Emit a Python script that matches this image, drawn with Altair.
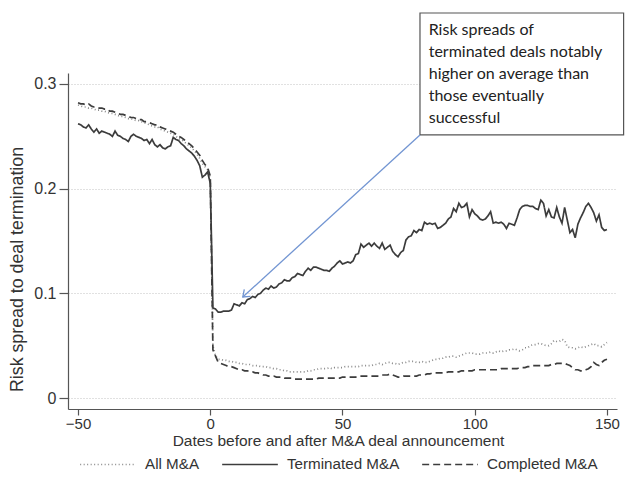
import altair as alt
import pandas as pd

days = list(range(-50, 151))
series_names = ["All M&A", "Terminated M&A", "Completed M&A"]

all_pre = [0.280, 0.279, 0.278, 0.278, 0.277, 0.277, 0.276, 0.275, 0.275, 0.274,
           0.274, 0.273, 0.272, 0.272, 0.271, 0.270, 0.269, 0.269, 0.268, 0.267,
           0.267, 0.266, 0.265, 0.265, 0.264, 0.263, 0.262, 0.261, 0.260, 0.259,
           0.259, 0.257, 0.256, 0.255, 0.254, 0.253, 0.252, 0.250, 0.248, 0.247,
           0.245, 0.243, 0.241, 0.239, 0.236, 0.233, 0.229, 0.224, 0.221, 0.218,
           0.210]
all_post = [0.050, 0.040, 0.037, 0.037, 0.036, 0.036, 0.035, 0.035, 0.034, 0.034,
            0.033, 0.033, 0.032, 0.032, 0.032, 0.031, 0.031, 0.031, 0.030, 0.030,
            0.030, 0.029, 0.029, 0.028, 0.028, 0.027, 0.027, 0.026, 0.026, 0.025,
            0.025, 0.025, 0.025, 0.025, 0.025, 0.025, 0.026, 0.026, 0.027, 0.027,
            0.028, 0.028, 0.028, 0.028, 0.029, 0.028, 0.029, 0.029, 0.029, 0.029,
            0.030, 0.030, 0.030, 0.030, 0.030, 0.030, 0.031, 0.031, 0.031, 0.031,
            0.031, 0.032, 0.032, 0.033, 0.032, 0.033, 0.034, 0.034, 0.033, 0.033,
            0.032, 0.033, 0.034, 0.034, 0.035, 0.035, 0.035, 0.034, 0.034, 0.035,
            0.034, 0.034, 0.035, 0.036, 0.037, 0.037, 0.038, 0.038, 0.039, 0.039,
            0.040, 0.040, 0.039, 0.040, 0.041, 0.042, 0.043, 0.043, 0.043, 0.042,
            0.042, 0.042, 0.043, 0.043, 0.043, 0.044, 0.043, 0.044, 0.045, 0.044,
            0.045, 0.045, 0.046, 0.046, 0.047, 0.046, 0.045, 0.046, 0.048, 0.048,
            0.050, 0.051, 0.051, 0.052, 0.052, 0.051, 0.050, 0.050, 0.052, 0.055,
            0.054, 0.054, 0.056, 0.055, 0.049, 0.048, 0.048, 0.047, 0.048, 0.049,
            0.048, 0.049, 0.050, 0.051, 0.052, 0.050, 0.050, 0.049, 0.051, 0.053]

term_pre = [0.262, 0.261, 0.259, 0.258, 0.261, 0.257, 0.254, 0.257, 0.253, 0.255,
            0.254, 0.253, 0.252, 0.250, 0.255, 0.251, 0.250, 0.248, 0.247, 0.245,
            0.250, 0.252, 0.250, 0.249, 0.248, 0.246, 0.247, 0.243, 0.247, 0.242,
            0.240, 0.242, 0.239, 0.238, 0.240, 0.241, 0.249, 0.247, 0.246, 0.243,
            0.241, 0.238, 0.236, 0.234, 0.231, 0.227, 0.222, 0.211, 0.213, 0.216,
            0.205]
term_post = [0.086, 0.085, 0.082, 0.082, 0.083, 0.083, 0.083, 0.084, 0.090, 0.089,
             0.088, 0.091, 0.090, 0.094, 0.095, 0.097, 0.096, 0.099, 0.100, 0.103,
             0.105, 0.104, 0.107, 0.105, 0.106, 0.109, 0.110, 0.113, 0.112, 0.112,
             0.115, 0.116, 0.119, 0.118, 0.117, 0.121, 0.124, 0.122, 0.125, 0.125,
             0.124, 0.123, 0.122, 0.122, 0.121, 0.124, 0.126, 0.129, 0.131, 0.128,
             0.129, 0.130, 0.129, 0.131, 0.137, 0.138, 0.147, 0.144, 0.146, 0.148,
             0.145, 0.148, 0.145, 0.143, 0.148, 0.142, 0.144, 0.146, 0.140, 0.137,
             0.135, 0.139, 0.141, 0.151, 0.154, 0.155, 0.160, 0.158, 0.161, 0.160,
             0.168, 0.166, 0.167, 0.166, 0.167, 0.162, 0.163, 0.165, 0.167, 0.171,
             0.173, 0.181, 0.178, 0.186, 0.182, 0.183, 0.186, 0.173, 0.180, 0.176,
             0.174, 0.171, 0.170, 0.171, 0.174, 0.178, 0.167, 0.168, 0.167, 0.168,
             0.166, 0.162, 0.167, 0.166, 0.165, 0.172, 0.180, 0.183, 0.184, 0.184,
             0.183, 0.183, 0.181, 0.180, 0.189, 0.186, 0.174, 0.180, 0.173, 0.172,
             0.182, 0.173, 0.167, 0.182, 0.170, 0.158, 0.161, 0.153, 0.166, 0.172,
             0.177, 0.183, 0.186, 0.182, 0.177, 0.169, 0.175, 0.163, 0.160, 0.161]

comp_pre = [0.282, 0.281, 0.281, 0.280, 0.281, 0.279, 0.278, 0.278, 0.277, 0.277,
            0.276, 0.276, 0.274, 0.274, 0.273, 0.272, 0.271, 0.271, 0.270, 0.269,
            0.268, 0.268, 0.267, 0.266, 0.266, 0.264, 0.264, 0.263, 0.262, 0.261,
            0.261, 0.259, 0.258, 0.257, 0.256, 0.255, 0.254, 0.252, 0.250, 0.249,
            0.247, 0.245, 0.243, 0.241, 0.238, 0.235, 0.232, 0.227, 0.223, 0.220,
            0.212]
comp_post = [0.046, 0.040, 0.034, 0.033, 0.032, 0.031, 0.030, 0.030, 0.029, 0.028,
             0.027, 0.027, 0.026, 0.026, 0.025, 0.025, 0.024, 0.024, 0.023, 0.022,
             0.022, 0.021, 0.021, 0.021, 0.020, 0.020, 0.020, 0.019, 0.019, 0.019,
             0.019, 0.018, 0.018, 0.018, 0.018, 0.018, 0.018, 0.018, 0.018, 0.018,
             0.019, 0.019, 0.019, 0.019, 0.019, 0.019, 0.019, 0.019, 0.019, 0.020,
             0.020, 0.020, 0.020, 0.020, 0.020, 0.021, 0.021, 0.021, 0.021, 0.021,
             0.021, 0.021, 0.021, 0.021, 0.022, 0.022, 0.022, 0.023, 0.022, 0.021,
             0.020, 0.020, 0.021, 0.021, 0.021, 0.021, 0.021, 0.021, 0.022, 0.022,
             0.022, 0.023, 0.023, 0.024, 0.024, 0.024, 0.024, 0.024, 0.024, 0.025,
             0.025, 0.025, 0.025, 0.025, 0.026, 0.026, 0.026, 0.026, 0.026, 0.027,
             0.027, 0.027, 0.027, 0.027, 0.027, 0.027, 0.027, 0.027, 0.027, 0.028,
             0.028, 0.028, 0.028, 0.028, 0.028, 0.028, 0.029, 0.029, 0.029, 0.030,
             0.030, 0.031, 0.031, 0.031, 0.031, 0.031, 0.031, 0.031, 0.032, 0.032,
             0.033, 0.033, 0.033, 0.033, 0.032, 0.031, 0.029, 0.027, 0.027, 0.026,
             0.026, 0.027, 0.028, 0.030, 0.034, 0.032, 0.031, 0.034, 0.036, 0.037]

x_ticks = [-50, 0, 50, 100, 150]
y_ticks = [0, 0.1, 0.2, 0.3]

# annotation anchors (data units)
box_x = [79.3]
box_x2 = [156.3]
box_y = [0.2513]
box_y2 = [0.3678]
arrow_tip_x = [12.3]
arrow_tip_y = [0.0965]
note_x = [82.6]
note_y = [0.3590]
note_lines = ["Risk spreads of", "terminated deals notably", "higher on average than",
              "those eventually", "successful"]

rows = []
for name, vals in zip(series_names, [all_pre + all_post, term_pre + term_post, comp_pre + comp_post]):
    for d, v in zip(days, vals):
        rows.append({"day": d, "value": v, "series": name})
df = pd.DataFrame(rows)

xscale = alt.Scale(domain=[-53.8, 153.8], nice=False, zero=False)
yscale = alt.Scale(domain=[-0.0105, 0.3105], nice=False, zero=False)

leg = alt.Legend(orient="none", legendX=11, legendY=362, direction="horizontal",
                 title=None, symbolType="stroke", symbolSize=3100, symbolStrokeWidth=1.5,
                 labelFontSize=15.2, labelFont="Liberation Sans", labelColor="#333",
                 columnPadding=19, labelOffset=8)

lines = alt.Chart(df).mark_line(strokeWidth=1.7).encode(
    x=alt.X("day:Q", scale=xscale,
            axis=alt.Axis(values=x_ticks, title="Dates before and after M&A deal announcement",
                          grid=False, tickSize=6, labelPadding=1, titlePadding=2,
                          titleFontSize=15.5, titleX=270)),
    y=alt.Y("value:Q", scale=yscale,
            axis=alt.Axis(values=y_ticks, title="Risk spread to deal termination",
                          grid=True, gridDash=[1, 2], gridColor="#c4c4c4", gridWidth=1.2,
                          tickSize=9, labelPadding=3, titleFontSize=17.8,
                          titleX=-51, titleY=196, titleAlign="center", titleAngle=270,
                          titleBaseline="middle", labelFontSize=16,
                          labelExpr="datum.value == 0 ? '0' : format(datum.value, '.1f')")),
    color=alt.Color("series:N", sort=series_names,
                    scale=alt.Scale(domain=series_names, range=["#8a8a8a", "#3c3c3c", "#3c3c3c"]),
                    legend=leg),
    strokeDash=alt.StrokeDash("series:N", sort=series_names,
                              scale=alt.Scale(domain=series_names, range=[[1, 2.5], [1, 0], [7, 4]]),
                              legend=leg),
    detail="series:N",
)

box_df = pd.DataFrame({"x": box_x, "x2": box_x2, "y": box_y, "y2": box_y2})
box = alt.Chart(box_df).mark_rect(fill="white", stroke="#555555", strokeWidth=1.2).encode(
    x=alt.X("x:Q", scale=xscale), x2="x2:Q", y=alt.Y("y:Q", scale=yscale), y2="y2:Q")

arrow_df = pd.DataFrame({"x": box_x, "y": box_y, "x2": arrow_tip_x, "y2": arrow_tip_y})
arrow = alt.Chart(arrow_df).mark_rule(color="#7295d2", strokeWidth=1.3).encode(
    x=alt.X("x:Q", scale=xscale), y=alt.Y("y:Q", scale=yscale), x2="x2:Q", y2="y2:Q")

head_df = pd.DataFrame({"x": arrow_tip_x, "y": arrow_tip_y})
head = alt.Chart(head_df).mark_point(shape="M -1 -0.75 L 0 0 L -1 0.75", size=150, angle=138,
                                     filled=False, color="#7295d2", strokeWidth=1.3, opacity=1).encode(
    x=alt.X("x:Q", scale=xscale), y=alt.Y("y:Q", scale=yscale))

note_df = pd.DataFrame({"x": note_x, "y": note_y})
note = alt.Chart(note_df).mark_text(text=note_lines, align="left", baseline="top", font="Lato",
                                    fontSize=16, lineHeight=22, color="#222222").encode(
    x=alt.X("x:Q", scale=xscale), y=alt.Y("y:Q", scale=yscale))

chart = alt.layer(lines, box, arrow, head, note).properties(
    width=549, height=336,
    autosize=alt.AutoSizeParams(type="none"),
    padding={"left": 60, "top": 65, "right": 8, "bottom": 73},
).configure_view(stroke=None).configure_axis(
    labelFont="Liberation Sans", titleFont="Liberation Sans", labelFontSize=15, titleFontSize=15,
    labelColor="#333", titleColor="#333", titleFontWeight="normal",
    domainColor="#555", tickColor="#555", domainWidth=1.2, tickWidth=1.2,
)

chart.save("out.html", embed_options={"renderer": "svg", "actions": False})
